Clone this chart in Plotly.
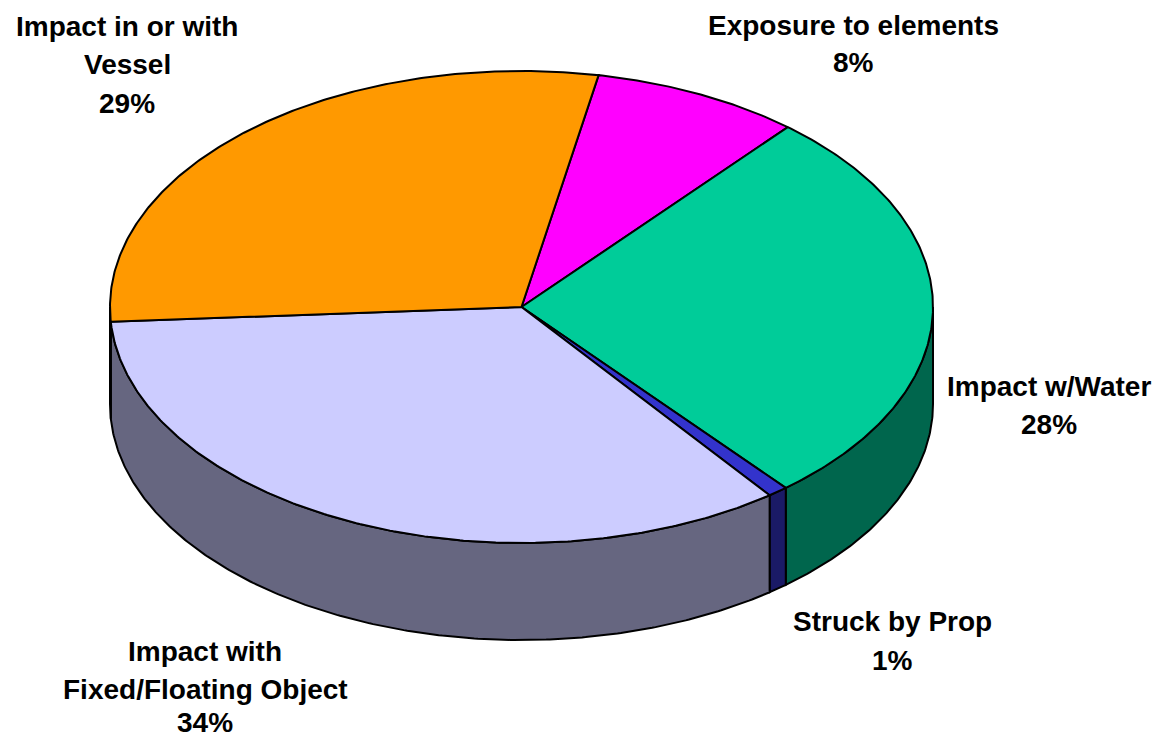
import numpy as np
import plotly.graph_objects as go

# Slices, clockwise from the start angle
categories = ["Exposure to elements", "Impact w/Water", "Struck by Prop",
              "Impact with Fixed/Floating Object", "Impact in or with Vessel"]
values = [8.2, 27.7, 0.8, 34.3, 29.0]
percent_labels = ["8%", "28%", "1%", "34%", "29%"]
top_colors = ["#FF00FF", "#00CC99", "#3333CC", "#CCCCFF", "#FF9900"]
side_colors = ["#800080", "#00664D", "#1A1A66", "#666680", "#804D00"]

# Label lines and where each block sits (centre x, y of each line)
label_lines = [
    ["Exposure to elements", "8%"],
    ["Impact w/Water", "28%"],
    ["Struck by Prop", "1%"],
    ["Impact with", "Fixed/Floating Object", "34%"],
    ["Impact in or with", "Vessel", "29%"],
]
label_x = [853, 1049, 892, 205, 127]
label_y = [[25, 62], [386, 424], [621, 660], [651, 689, 722], [26, 64, 103]]

# Projection of the tilted pie, in page pixels
CX, CY, RX, RY, DEPTH = 521.5, 307.0, 411.5, 236.0, 97.0
START = 10.8
W, H = 1154, 739


def rim(a0, a1, dy=0.0):
    t = np.radians(np.linspace(a0, a1, max(2, int(abs(a1 - a0) * 2) + 1)))
    return CX + RX * np.sin(t), CY - RY * np.cos(t) + dy


share = np.array(values) / sum(values) * 360
edges = START + np.concatenate([[0], np.cumsum(share)])

fig = go.Figure()


def add_poly(x, y, fill, name):
    fig.add_trace(go.Scatter(
        x=x, y=y, mode="lines", fill="toself", fillcolor=fill, name=name,
        line=dict(color="black", width=2, shape="linear"),
        hoverinfo="name", showlegend=False))


# Side wall: only the part of the rim facing the viewer (90..270 deg)
for a0, a1, c, n in zip(edges[:-1], edges[1:], side_colors, categories):
    lo, hi = max(a0, 90), min(a1, 270)
    if hi > lo:
        xt, yt = rim(lo, hi)
        xb, yb = rim(hi, lo, DEPTH)
        add_poly(np.r_[xt, xb, xt[0]], np.r_[yt, yb, yt[0]], c, n)

# Top faces
for a0, a1, c, n in zip(edges[:-1], edges[1:], top_colors, categories):
    xr, yr = rim(a0, a1)
    add_poly(np.r_[CX, xr, CX], np.r_[CY, yr, CY], c, n)

annotations = []
for lines, x, ys in zip(label_lines, label_x, label_y):
    for line, y in zip(lines, ys):
        annotations.append(dict(
            x=x, y=y, xref="x", yref="y", text=f"<b>{line}</b>", showarrow=False,
            xanchor="center", yanchor="middle",
            font=dict(family="Liberation Sans, Arial, sans-serif", size=28, color="black")))

fig.update_layout(
    width=W, height=H, autosize=False,
    margin=dict(l=0, r=0, t=0, b=0),
    paper_bgcolor="white", plot_bgcolor="white",
    xaxis=dict(range=[0, W], visible=False, fixedrange=True),
    yaxis=dict(range=[H, 0], visible=False, fixedrange=True),
    annotations=annotations,
)
fig.write_html("out.html", config=dict(displayModeBar=False),
               post_script="document.body.style.margin='0';document.body.style.overflow='hidden';window.dispatchEvent(new Event('resize'));")
